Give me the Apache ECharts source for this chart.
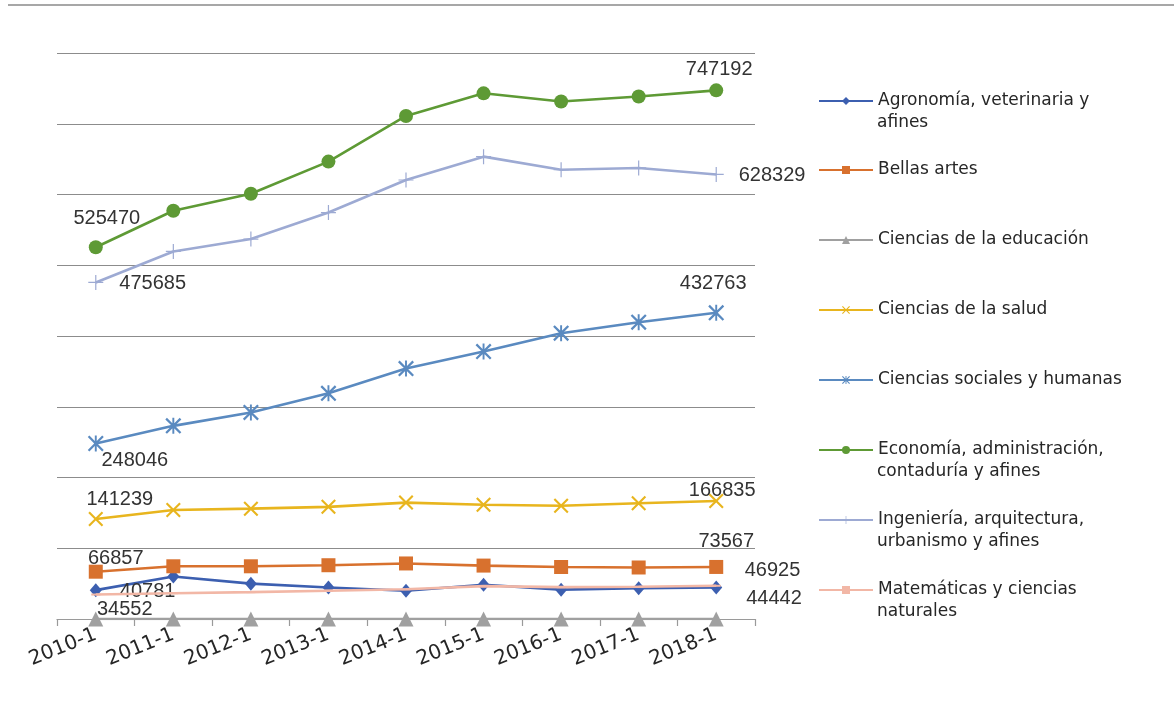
<!DOCTYPE html>
<html>
<head>
<meta charset="utf-8">
<script src="https://cdn.jsdelivr.net/npm/echarts@6/dist/echarts.min.js"></script>
<style>
html,body{margin:0;padding:0;background:#fff;}
#c{width:1174px;height:704px;}
</style>
</head>
<body>
<div id="c"></div>
<script>
const categories = ['2010-1','2011-1','2012-1','2013-1','2014-1','2015-1','2016-1','2017-1','2018-1'];
const agronomia   = [40781, 60000, 50000, 44500, 40000, 48500, 41500, 43500, 44442];
const bellasArtes = [66857, 74500, 74500, 76000, 78500, 75500, 73500, 72800, 73567];
const educacion   = [0, 0, 0, 0, 0, 0, 0, 0, 0];
const salud       = [141239, 154000, 156000, 158500, 164500, 161500, 160000, 163500, 166835];
const sociales    = [248046, 273000, 292000, 319000, 354000, 378000, 404000, 419500, 432763];
const economia    = [525470, 577000, 601000, 646500, 711000, 743000, 731500, 738500, 747192];
const ingenieria  = [475685, 519500, 537000, 574500, 620500, 653500, 635000, 637500, 628329];
const matematicas = [34552, 36500, 38000, 40000, 42000, 46500, 45000, 45500, 46925];
const yTicks = {min: 0, max: 800000, interval: 100000};

const names = [
  'Agronomía, veterinaria y afines',
  'Bellas artes',
  'Ciencias de la educación',
  'Ciencias de la salud',
  'Ciencias sociales y humanas',
  'Economía, administración, contaduría y afines',
  'Ingeniería, arquitectura, urbanismo y afines',
  'Matemáticas y ciencias naturales'
];
const legendLines = [
  ['Agronomía, veterinaria y', 'afines'],
  ['Bellas artes'],
  ['Ciencias de la educación'],
  ['Ciencias de la salud'],
  ['Ciencias sociales y humanas'],
  ['Economía, administración,', 'contaduría y afines'],
  ['Ingeniería, arquitectura,', 'urbanismo y afines'],
  ['Matemáticas y ciencias', 'naturales']
];
const values = [agronomia, bellasArtes, educacion, salud, sociales, economia, ingenieria, matematicas];

const colors = ['#3C5FB0', '#D8712E', '#A0A0A0', '#E8B51E', '#5A8AC0', '#5E9A35', '#9DAAD3', '#F2B7A6'];
const X_PATH = 'path://M0,1 L1,0 L5,4 L9,0 L10,1 L6,5 L10,9 L9,10 L5,6 L1,10 L0,9 L4,5 Z';
const AST_PATH = 'path://M0,1 L1,0 L5,4 L9,0 L10,1 L6,5 L10,9 L9,10 L5,6 L1,10 L0,9 L4,5 Z M4.4,0 L5.6,0 L5.6,10 L4.4,10 Z';
const PLUS_PATH = 'path://M4.6,0 L5.4,0 L5.4,4.6 L10,4.6 L10,5.4 L5.4,5.4 L5.4,10 L4.6,10 L4.6,5.4 L0,5.4 L0,4.6 L4.6,4.6 Z';
const symbols = ['diamond', 'rect', 'triangle', X_PATH, AST_PATH, 'circle', PLUS_PATH, 'rect'];
const symbolSizes = [[12,14], 14, 15, 15, 16, 14, 15, [9,2]];

const labelFont = {fontFamily: 'Liberation Sans, Arial, sans-serif', fontSize: 20, color: '#333333'};
const labelCfg = [
  [{position:'right', offset:[13, 1]}, {position:'right', offset:[19, 11]}],
  [{position:'top', offset:[20, 9]}, {position:'top', offset:[10, -3]}],
  [null, null],
  [{position:'top', offset:[24, 3]}, {position:'top', offset:[6, 12]}],
  [{position:'bottom', offset:[39, -6]}, {position:'top', offset:[-3, -6]}],
  [{position:'top', offset:[11, -7]}, {position:'top', offset:[3, 1]}],
  [{position:'right', offset:[11, 1]}, {position:'right', offset:[10, 1]}],
  [{position:'bottom', offset:[29, -1]}, {position:'right', offset:[19, -15]}]
];

const series = names.map((name, si) => {
  const arr = values[si];
  const data = arr.map((v, i) => {
    let cfg = null;
    if (i === 0) cfg = labelCfg[si][0];
    if (i === arr.length - 1) cfg = labelCfg[si][1];
    if (!cfg) return v;
    return {value: v, label: Object.assign({show: true, formatter: p => String(p.value)}, labelFont, cfg)};
  });
  return {
    name: name,
    type: 'line',
    data: data,
    symbol: symbols[si],
    symbolSize: symbolSizes[si],
    showAllSymbol: true,
    lineStyle: {color: colors[si], width: 2.6},
    itemStyle: {color: colors[si]},
    emphasis: {disabled: true},
    animation: false,
    z: 2 + si
  };
});

const legendTop = [101, 170, 240, 310, 380, 450, 520, 590];
const legendFont = {fontFamily: 'DejaVu Sans, sans-serif', fontSize: 17, color: '#262626', lineHeight: 23};
const legends = names.map((name, i) => ({
  data: [name],
  left: 818,
  top: legendTop[i] - 11.5,
  padding: 0,
  orient: 'vertical',
  itemWidth: 54,
  itemHeight: 10,
  itemGap: 0,
  selectedMode: false,
  formatter: () => legendLines[i][0],
  textStyle: legendFont
}));

const graphics = [
  {type: 'line', shape: {x1: 8, y1: 5, x2: 1174, y2: 5}, style: {stroke: '#8a8a8a', lineWidth: 1.5}}
];
legendLines.forEach((lines, i) => {
  for (let k = 1; k < lines.length; k++) {
    graphics.push({
      type: 'text', left: 877, top: legendTop[i] - 11.5 + 23 * k + 2,
      style: {text: lines[k], font: '17px "DejaVu Sans", sans-serif', fill: '#262626'}
    });
  }
});

const chart = echarts.init(document.getElementById('c'), null, {renderer: 'canvas'});
chart.setOption({
  animation: false,
  backgroundColor: '#ffffff',
  grid: {left: 57, right: 419, top: 53, bottom: 85, containLabel: false},
  legend: legends,
  graphic: graphics,
  xAxis: {
    type: 'category',
    data: categories,
    boundaryGap: true,
    axisLine: {lineStyle: {color: '#9a9a9a', width: 1.2}},
    axisTick: {show: true, interval: 0, length: 7, lineStyle: {color: '#9a9a9a', width: 1.2}},
    axisLabel: {interval: 0, rotate: 22, margin: 15, fontFamily: 'DejaVu Sans, sans-serif', fontSize: 20, color: '#262626'}
  },
  yAxis: {
    type: 'value',
    min: yTicks.min, max: yTicks.max, interval: yTicks.interval,
    axisLabel: {show: false},
    axisLine: {show: false},
    axisTick: {show: false},
    splitLine: {lineStyle: {color: '#8c8c8c', width: 1.2}}
  },
  series: series
});
</script>
</body>
</html>
